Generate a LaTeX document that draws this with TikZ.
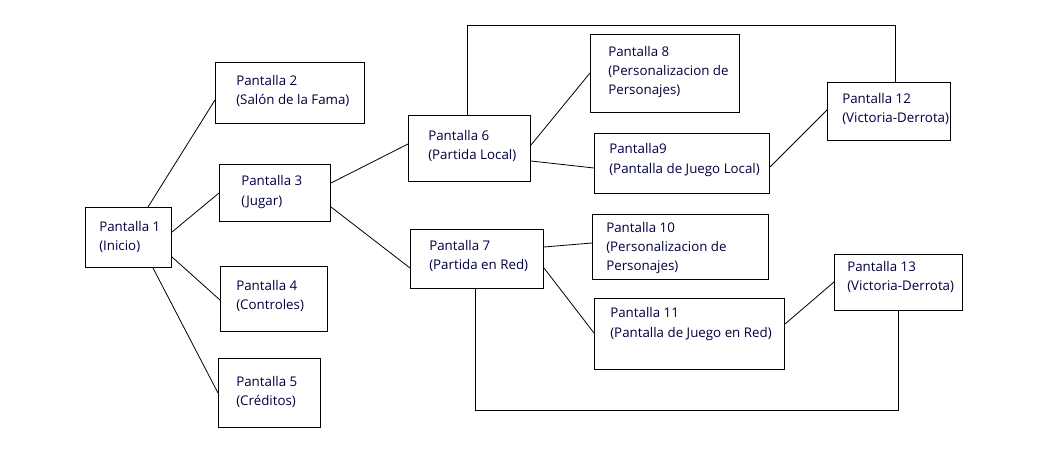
\documentclass[tikz,border=0pt]{standalone}
\usepackage{fontspec}
\setmainfont{Open Sans}
\usetikzlibrary{calc}
\begin{document}
\begin{tikzpicture}[x=0.75pt,y=-0.75pt,
  box/.style={draw=black,line width=0.75pt,inner sep=0pt,anchor=north west},
  txt/.style={anchor=west,align=left,inner sep=0pt,font=\fontsize{10pt}{14.4pt}\selectfont,text=black!75!blue},
  conn/.style={draw=black,line width=0.6pt}]
\useasboundingbox (0,0) rectangle (1059,460);
% boxes (north west corner, size in px)
\newcommand{\mkbox}[5]{\node[box,minimum width=#4*0.75pt,minimum height=#5*0.75pt] (#1) at (#2,#3) {};}
\mkbox{b1}{85}{207}{86}{60}
\mkbox{b2}{215}{62}{149}{61}
\mkbox{b3}{219}{164}{111}{57}
\mkbox{b4}{220}{266}{107}{65}
\mkbox{b5}{218}{358}{102}{69}
\mkbox{b6}{408}{115}{122}{66}
\mkbox{b7}{410}{229}{133}{59}
\mkbox{b8}{590}{34}{149}{78}
\mkbox{b9}{594}{133}{175}{60}
\mkbox{b10}{592}{214}{176}{65}
\mkbox{b11}{594}{298}{190}{71}
\mkbox{b12}{827}{82}{123}{58}
\mkbox{b13}{834}{254}{128}{56}
% texts
\node[txt] (t1) at (99,237) {Pantalla 1\\(Inicio)};
\node[txt] (t2) at (236,91) {Pantalla 2\\(Salón de la Fama)};
\node[txt] (t3) at (241,192) {Pantalla 3\\(Jugar)};
\node[txt] (t4) at (236,296) {Pantalla 4\\(Controles)};
\node[txt] (t5) at (236,392) {Pantalla 5\\(Créditos)};
\node[txt] (t6) at (428,146) {Pantalla 6\\(Partida Local)};
\node[txt] (t7) at (429,256) {Pantalla 7\\(Partida en Red)};
\node[txt] (t8) at (608,72) {Pantalla 8\\(Personalizacion de\\Personajes)};
\node[txt] (t9) at (609,160) {Pantalla9\\(Pantalla de Juego Local)};
\node[txt] (t10) at (606,248) {Pantalla 10\\(Personalizacion de\\Personajes)};
\node[txt] (t11) at (610,324) {Pantalla 11\\(Pantalla de Juego en Red)};
\node[txt] (t12) at (842,109) {Pantalla 12\\(Victoria-Derrota)};
\node[txt] (t13) at (847,277) {Pantalla 13\\(Victoria-Derrota)};
% connectors
\draw[conn] ($(b1.north west)+(63,0)$) -- ($(b2.north west)+(0,38)$);
\draw[conn] ($(b1.north east)+(0,25)$) -- ($(b3.north west)+(0,29)$);
\draw[conn] ($(b1.north east)+(0,50)$) -- ($(b4.north west)+(0,34)$);
\draw[conn] ($(b1.south west)+(68,0)$) -- ($(b5.north west)+(0,35)$);
\draw[conn] ($(b3.north east)+(0,19)$) -- ($(b6.north west)+(0,29)$);
\draw[conn] ($(b3.north east)+(0,43)$) -- ($(b7.north west)+(0,39)$);
\draw[conn] ($(b6.north east)+(0,30)$) -- ($(b8.north west)+(0,39)$);
\draw[conn] ($(b6.north east)+(0,46)$) -- ($(b9.north west)+(0,35)$);
\draw[conn] ($(b9.north east)+(0,34)$) -- ($(b12.north west)+(0,28)$);
\draw[conn] ($(b7.north east)+(0,18)$) -- ($(b10.north west)+(0,29)$);
\draw[conn] ($(b7.north east)+(0,39)$) -- ($(b11.north west)+(0,35)$);
\draw[conn] ($(b11.north east)+(0,26)$) -- ($(b13.north west)+(0,28)$);
\coordinate (topy) at (0,25);
\coordinate (boty) at (0,410);
\coordinate (p6) at ($(b6.north west)+(59,0)$);
\coordinate (p12) at ($(b12.north west)+(68,0)$);
\coordinate (p7) at ($(b7.south west)+(65,0)$);
\coordinate (p13) at ($(b13.south west)+(64,0)$);
\draw[conn] (p6) -- (p6 |- topy) -- (p12 |- topy) -- (p12);
\draw[conn] (p7) -- (p7 |- boty) -- (p13 |- boty) -- (p13);
\end{tikzpicture}
\end{document}
